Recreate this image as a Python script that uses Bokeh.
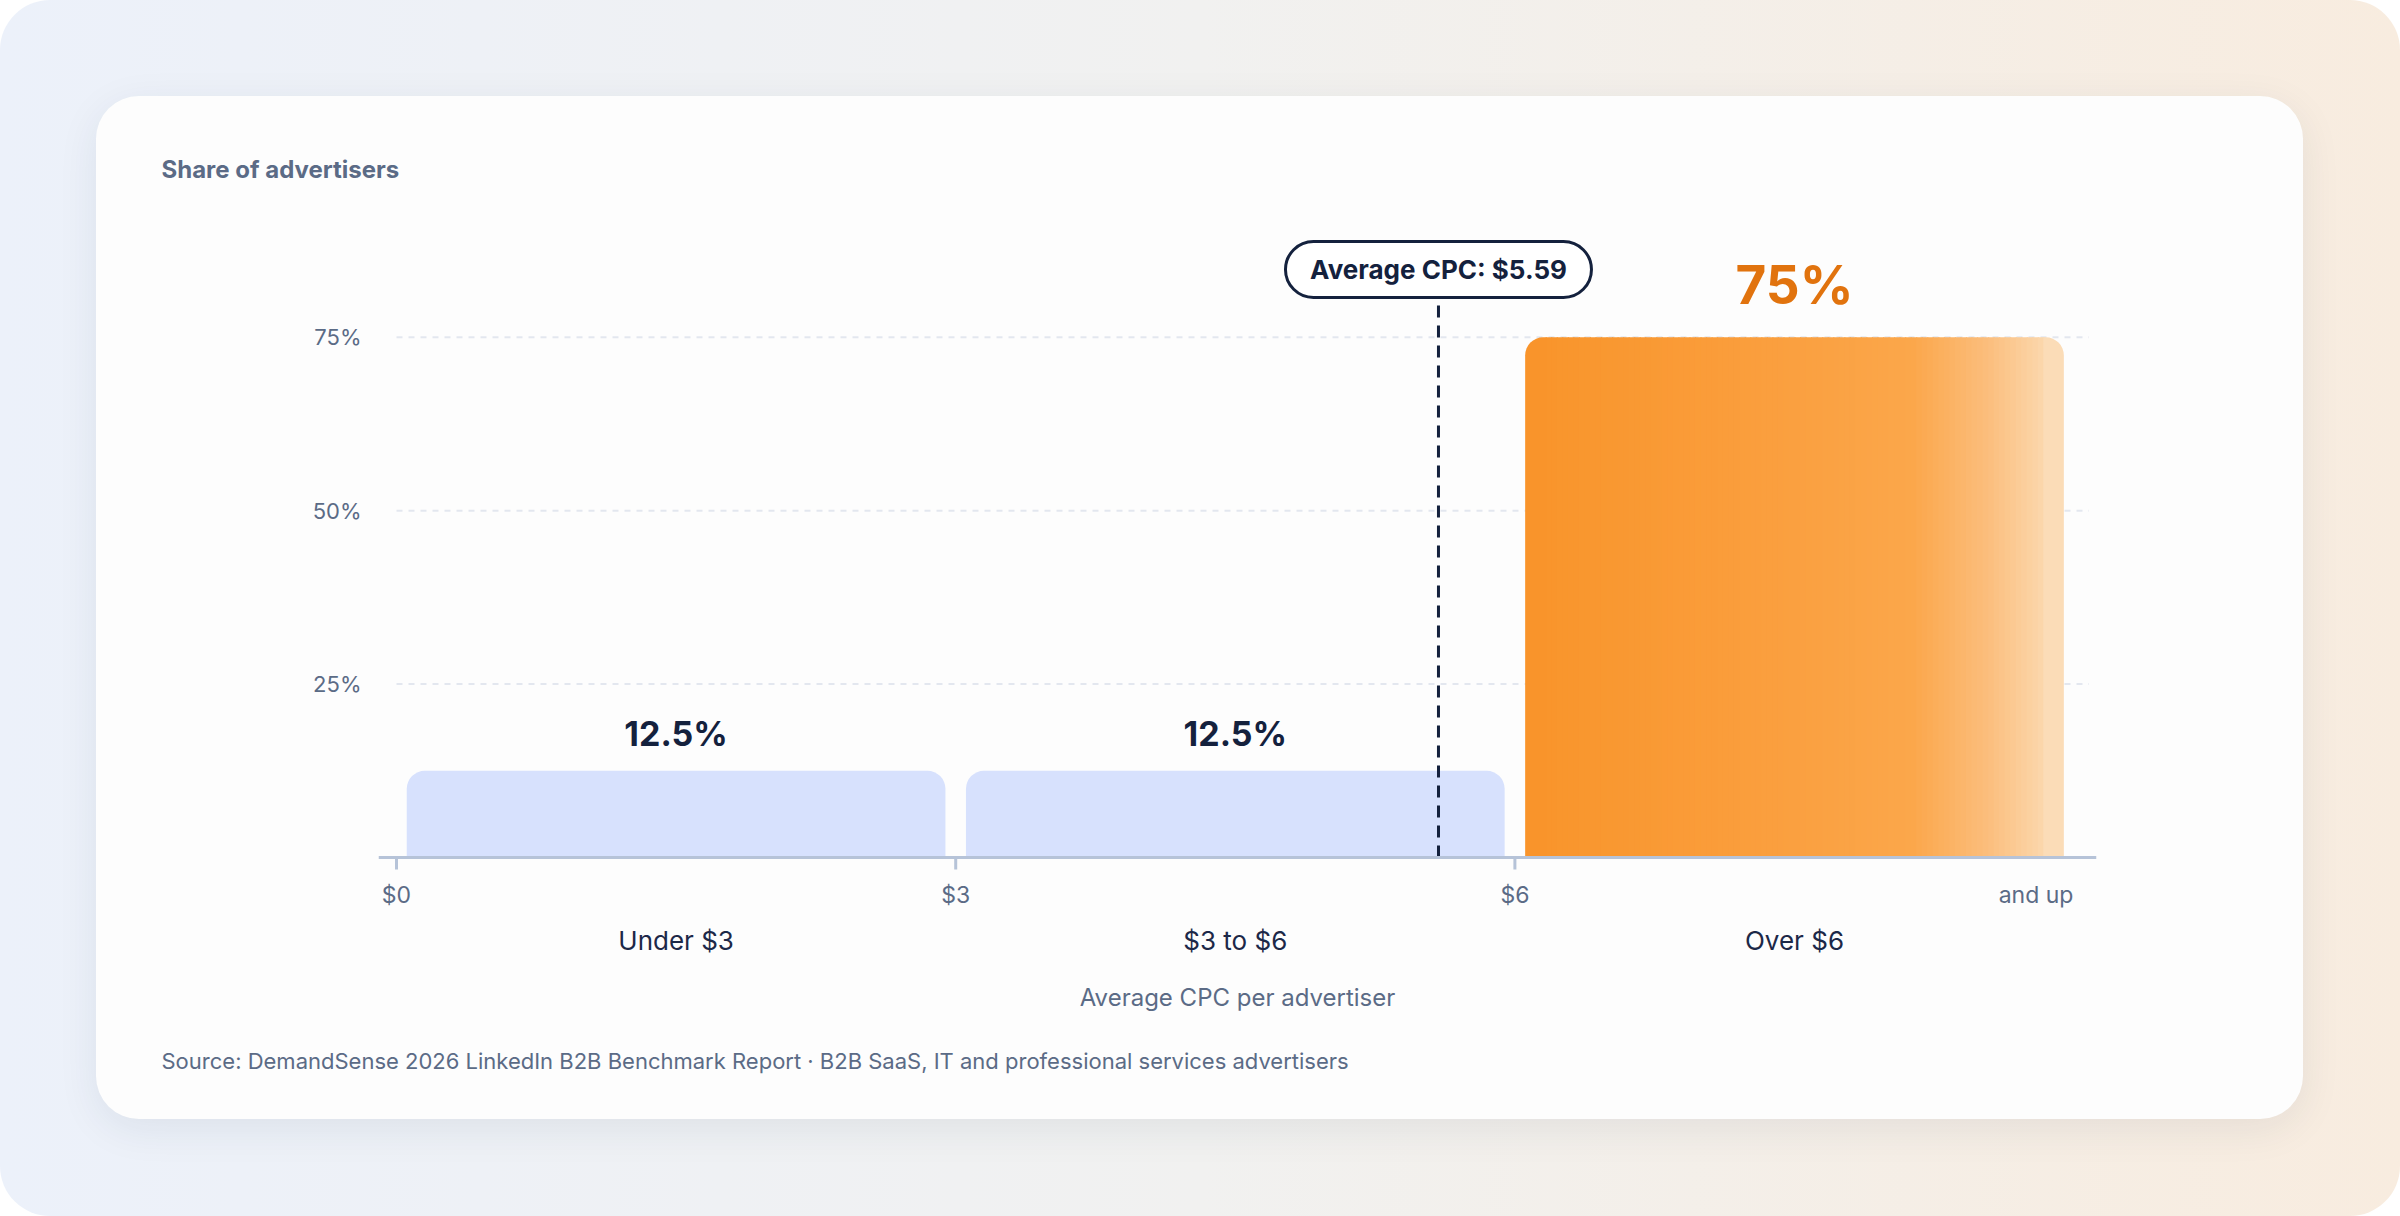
import numpy as np
from bokeh.plotting import figure
from bokeh.models import Range1d, FixedTicker, LinearAxis, Spacer, Span, Title
from bokeh.layouts import column, row
from bokeh.embed import file_html
from bokeh.resources import INLINE
from bokeh.core.properties import value

# ---------------- data ----------------
bin_edges = [0, 3, 6, 9]
categories = ["Under $3", "$3 to $6", "Over $6"]
shares = [12.5, 12.5, 75.0]
share_labels = ["12.5%", "12.5%", "75%"]
edge_tick_labels = ["$0", "$3", "$6"]
open_end_label = "and up"
y_ticks = [25, 50, 75]
y_tick_labels = ["25%", "50%", "75%"]
avg_cpc = 5.59
avg_label = "Average CPC: $5.59"
y_title = "Share of advertisers"
x_title = "Average CPC per advertiser"
source_text = ("Source: DemandSense 2026 LinkedIn B2B Benchmark Report \u00b7 "
               "B2B SaaS, IT and professional services advertisers")

# ---------------- styling / layout constants ----------------
FONT = "Inter"
NAVY = "#14213D"
GRAY = "#5B6B86"
BLUE = "#D7E1FD"
ORANGE_TXT = "#E1730E"
AXIS = "#B6C3D8"
GRID = "#E3E7EF"

CARD_W, CARD_H = 2207, 1023
ML, MR, MT, MB = 282, 207, 120, 247
FRAME_W = CARD_W - ML - MR
FRAME_H = CARD_H - MT - MB
PX_X = 186.4       # px per $1
PX_Y = 6.936       # px per 1 %
BASE_PX = 15       # baseline sits this many px above the frame bottom
x0 = -18 / PX_X
y0 = -BASE_PX / PX_Y
y_top = y0 + FRAME_H / PX_Y
GAP = 0.055
RADIUS = 18

def px_x(px):
    return px / PX_X

def px_y(px):
    return px / PX_Y

p = figure(width=CARD_W, height=CARD_H, output_backend="svg", toolbar_location=None,
           x_range=Range1d(x0, x0 + FRAME_W / PX_X), y_range=Range1d(y0, y_top),
           min_border_left=ML, min_border_right=MR, min_border_top=MT, min_border_bottom=MB)
p.border_fill_alpha = 0
p.background_fill_alpha = 0
p.outline_line_color = None
p.xgrid.visible = False
p.ygrid.visible = False
p.styles = {"background-color": "#FDFDFD", "border-radius": "43px",
            "box-shadow": "0 10px 40px rgba(30,45,80,0.08)"}

# title (y quantity) top-left
p.title.text = y_title
p.title.align = "left"
p.title.offset = -217
p.title.standoff = 66
p.title.text_font = FONT
p.title.text_font_size = "24px"
p.title.text_font_style = "bold"
p.title.text_color = GRAY

# y axis
p.yaxis.ticker = FixedTicker(ticks=y_ticks)
p.yaxis.major_label_overrides = {t: l for t, l in zip(y_ticks, y_tick_labels)}
p.yaxis.axis_line_color = None
p.yaxis.major_tick_line_color = None
p.yaxis.minor_tick_line_color = None
p.yaxis.major_tick_out = 0
p.yaxis.major_tick_in = 0
p.yaxis.major_label_standoff = 17
p.yaxis.major_label_text_font = FONT
p.yaxis.major_label_text_font_size = "22px"
p.yaxis.major_label_text_color = GRAY

# x axis (bin edges); the "and up" label is right-aligned on the last edge
end_tick = round(bin_edges[-1] - px_x(38), 3)
edge_ticks = bin_edges[:-1] + [end_tick]
xa = p.xaxis[0]
xa.ticker = FixedTicker(ticks=edge_ticks)
xa.major_label_overrides = dict(zip(edge_ticks, edge_tick_labels + [open_end_label]))
xa.axis_line_color = None
xa.major_tick_line_color = None
xa.minor_tick_line_color = None
xa.major_tick_out = 0
xa.major_tick_in = 0
xa.major_label_standoff = 8
xa.major_label_text_font = FONT
xa.major_label_text_font_size = "23px"
xa.major_label_text_color = GRAY

# baseline + tick marks at the bin edges
p.add_layout(Span(location=0, dimension="width", line_color=AXIS, line_width=3))
p.segment(x0=bin_edges[:-1], x1=bin_edges[:-1], y0=[0] * 3, y1=[-px_y(12)] * 3,
          line_color=AXIS, line_width=3)

# x axis (categories)
centers = [(a + b) / 2 for a, b in zip(bin_edges[:-1], bin_edges[1:])]
xc = LinearAxis(ticker=FixedTicker(ticks=centers),
                major_label_overrides={c: l for c, l in zip(centers, categories)},
                axis_line_color=None, major_tick_line_color=None, minor_tick_line_color=None,
                major_tick_out=0, major_tick_in=0, major_label_standoff=13,
                major_label_text_font=FONT, major_label_text_font_size="26px",
                major_label_text_color="#1C2848",
                axis_label=x_title, axis_label_standoff=24,
                axis_label_text_font=FONT, axis_label_text_font_size="24px",
                axis_label_text_font_style="normal", axis_label_text_color=GRAY)
p.add_layout(xc, "below")

# source line
p.add_layout(Title(text=source_text, align="left", offset=-217, standoff=62,
                   text_font=FONT, text_font_size="22px", text_font_style="normal",
                   text_color=GRAY), "below")

# grid lines
p.segment(x0=[bin_edges[0]] * len(y_ticks), x1=[bin_edges[-1] + 0.08] * len(y_ticks),
          y0=y_ticks, y1=y_ticks, line_color=GRID, line_width=2, line_dash="6 6")

# blue bars
for i in range(2):
    p.quad(left=[bin_edges[i] + GAP], right=[bin_edges[i + 1] - GAP], bottom=[0], top=[shares[i]],
           fill_color=BLUE, line_color=None, border_radius=(RADIUS, RADIUS, 0, 0))

# orange gradient bar (slices)
L, R = bin_edges[2] + GAP, bin_edges[3] - GAP
stops = [(0.0, (249, 148, 42)), (0.5, (250, 160, 64)), (0.72, (251, 167, 75)),
         (0.86, (251, 190, 125)), (1.0, (251, 224, 190))]

def grad(f):
    for (f0, c0), (f1, c1) in zip(stops[:-1], stops[1:]):
        if f0 <= f <= f1:
            t = (f - f0) / (f1 - f0)
            return "#%02x%02x%02x" % tuple(int(round(a + (b - a) * t)) for a, b in zip(c0, c1))
    return "#%02x%02x%02x" % stops[-1][1]

end_w = 0.11
n = 90
inner = np.linspace(L + end_w, R - end_w, n + 1)
lefts = list(inner[:-1])
rights = list(inner[1:] + 0.006)
cols = [grad(((a + b) / 2 - L) / (R - L)) for a, b in zip(inner[:-1], inner[1:])]
p.quad(left=lefts, right=rights, bottom=0, top=shares[2], fill_color=cols, line_color=None)
p.quad(left=[L], right=[L + end_w + 0.006], bottom=[0], top=[shares[2]], fill_color=grad(0.02),
       line_color=None, border_radius=(RADIUS, 0, 0, 0))
p.quad(left=[R - end_w], right=[R], bottom=[0], top=[shares[2]], fill_color=grad(0.985),
       line_color=None, border_radius=(0, RADIUS, 0, 0))

# value labels
p.text(x=centers[:2], y=shares[:2], text=share_labels[:2], text_align="center",
       text_baseline="middle", y_offset=-37, text_font=value(FONT), text_font_style="bold",
       text_font_size="34px", text_color=NAVY)
p.text(x=centers[2:], y=shares[2:], text=share_labels[2:], text_align="center",
       text_baseline="middle", y_offset=-52, text_font=value(FONT), text_font_style="bold",
       text_font_size="53px", text_color=ORANGE_TXT)

# average line + pill
pill_y = px_y(588)
p.segment(x0=[avg_cpc], x1=[avg_cpc], y0=[0], y1=[px_y(588 - 28)],
          line_color=NAVY, line_width=3, line_dash="12 8")
p.rect(x=[avg_cpc], y=[pill_y], width=306, height=56, width_units="screen",
       height_units="screen", fill_color="white", line_color=NAVY, line_width=3,
       border_radius=28)
p.text(x=[avg_cpc], y=[pill_y], text=[avg_label], text_align="center", text_baseline="middle",
       text_font=value(FONT), text_font_style="bold", text_font_size="26px", text_color=NAVY)

inner_row = row(Spacer(width=96, height=CARD_H), p, Spacer(width=97, height=CARD_H))
outer = column(Spacer(width=2400, height=96), inner_row, Spacer(width=2400, height=97),
               styles={"background": "linear-gradient(90deg, #ECF1FA 0%, #F1F1F0 50%, #F8ECDF 100%)",
                       "border-radius": "50px"})

open("out.html", "w").write(file_html(outer, INLINE))
